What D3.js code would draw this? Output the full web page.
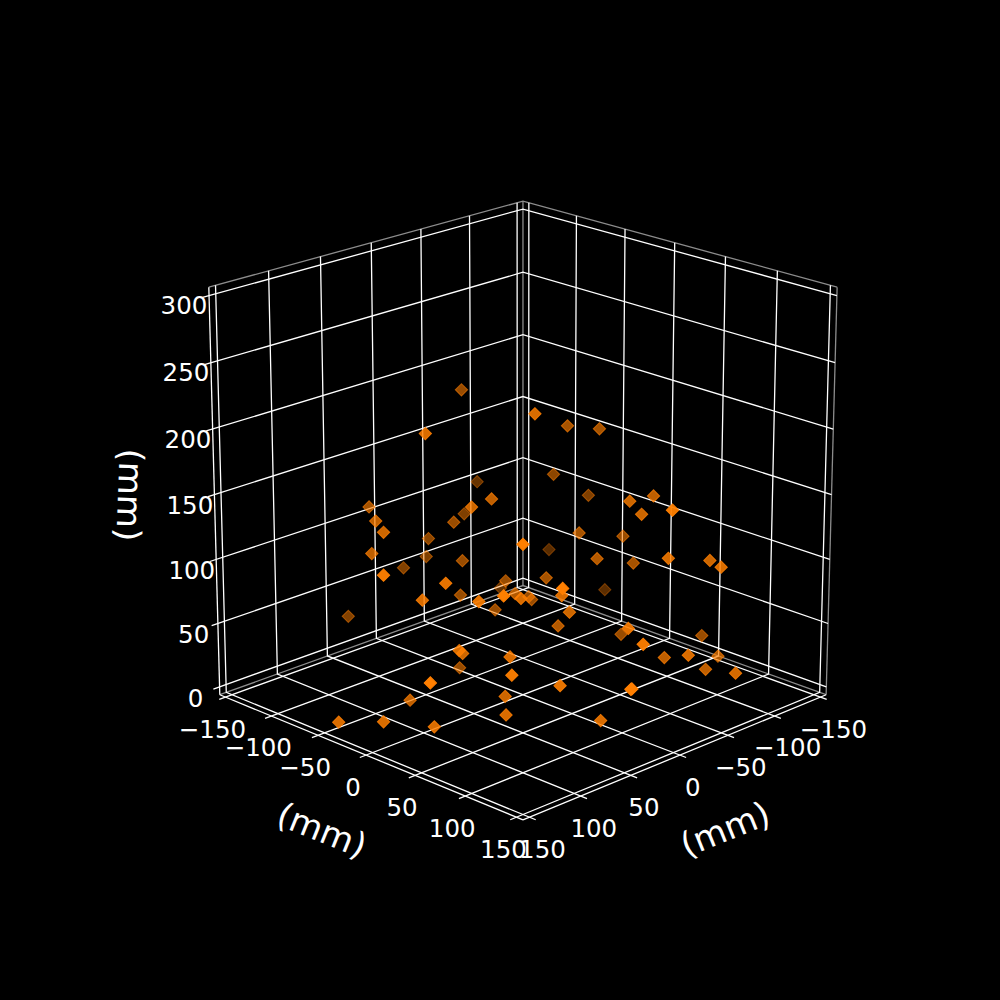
<!DOCTYPE html>
<html>
<head>
<meta charset="utf-8">
<script src="https://cdn.jsdelivr.net/npm/d3@7"></script>
<style>
  html, body { margin: 0; background: #000; }
  text { font-family: "DejaVu Sans"; fill: #fff; }
</style>
</head>
<body>
<svg id="chart" width="1000" height="1000"></svg>
<script>
// values, in mm
const xVals = [-41,56,-89,5,31,-48,-13,42,68,80,-11,76,-20,-11,-6,68,128,85,-4,86,34,72,-19,-30,-82,86,-4,36,-39,-40,-37,56,15,-150,0,-20,2,-80,11,-122,-55,-38,-97,-74,-64,46,40,39,17,76,61,7,52,82,47,64,137,82,149,126,102,-3,-75,-91,-88,-117,-50,-78,-54,-26,-62,-99,-129,-52,-85,-45,-80,-70]
const yVals = [-105,-42,-138,-27,-21,-110,-85,-117,-82,-61,-110,-78,-122,-74,-132,68,-10,8,-69,-15,-150,28,-48,-48,-106,67,-12,34,-33,-31,-13,95,54,-62,47,16,107,22,130,64,89,128,103,112,150,83,146,146,95,12,0,-59,39,71,29,47,46,-33,-36,-14,13,9,-29,-12,-56,-48,58,55,66,122,-4,5,-101,24,29,101,109,129]
const zVals = [195,200,102,141,143,94,103,121,126,126,84,104,64,76,56,148,120,107,52,88,23,95,42,62,26,114,69,89,51,49,72,119,91,18,72,47,77,25,74,24,33,51,26,25,36,39,53,53,7,54,44,0,50,54,15,11,57,4,6,6,3,213,177,175,129,107,147,143,138,163,103,93,46,93,82,116,107,110]

const xyTicks = [-150,-100,-50,0,50,100,150]
const zTicks = [0,50,100,150,200,250,300]
const axisLabel = '(mm)'

const svg = d3.select('#chart')

// camera: elevation 20, azimuth 45, distance 10
const elev = 20 * Math.PI / 180
const dist = 10
const cosE = Math.cos(elev)
const sinE = Math.sin(elev)

// data -> unit cube centred on 0
const xCube = d3.scaleLinear().domain([-150, 150]).range([-0.5, 0.5])
const yCube = d3.scaleLinear().domain([-150, 150]).range([-0.5, 0.5])
const zCube = d3.scaleLinear().domain([0, 300]).range([-0.5, 0.5])

// view plane -> pixels
const sx = d3.scaleLinear().domain([-0.095, 0.09]).range([125, 900])
const sy = d3.scaleLinear().domain([-0.095, 0.09]).range([890, 120])

function depth(x, y, z) {
  const f = (xCube(x) + yCube(y)) / Math.SQRT2
  return f * cosE + zCube(z) * sinE
}

function project(x, y, z) {
  const r = (yCube(y) - xCube(x)) / Math.SQRT2
  const f = (xCube(x) + yCube(y)) / Math.SQRT2
  const u = zCube(z) * cosE - f * sinE
  const w = dist - depth(x, y, z)
  return [sx(r / w), sy(u / w)]
}

const L = 156.25 // pane edge
const zLo = -6.25
const zHi = 306.25
const tickOut = 6
const lw = 1.3

const line3d = d3.line().x(d => project(...d)[0]).y(d => project(...d)[1])

function seg(g, pts, color, width) {
  g.append('path')
    .attr('d', line3d(pts))
    .attr('fill', 'none')
    .attr('stroke', color)
    .attr('stroke-width', width)
}

// pane edges
const paneG = svg.append('g')
const paneCol = '#8c8c8c'
seg(paneG, [[L,-L,zHi],[-L,-L,zHi],[-L,L,zHi]], paneCol, lw)
seg(paneG, [[-L,-L,zHi],[-L,-L,zLo]], paneCol, lw)
seg(paneG, [[L,-L,zLo],[-L,-L,zLo],[-L,L,zLo]], paneCol, lw)
seg(paneG, [[-L,L,zHi],[-L,L,zLo]], paneCol, lw)

// grid
const gridG = svg.append('g')
xyTicks.forEach(t => {
  seg(gridG, [[t,L+tickOut,zLo],[t,-L,zLo],[t,-L,zHi]], '#fff', lw)
  seg(gridG, [[L+tickOut,t,zLo],[-L,t,zLo],[-L,t,zHi]], '#fff', lw)
})
zTicks.forEach(t => {
  seg(gridG, [[L+tickOut,-L,t],[-L,-L,t],[-L,L,t]], '#fff', lw)
})

// axis lines
const axisG = svg.append('g')
seg(axisG, [[L,-L,zLo],[L,L,zLo]], '#fff', lw)
seg(axisG, [[L,L,zLo],[-L,L,zLo]], '#fff', lw)
seg(axisG, [[L,-L,zLo],[L,-L,zHi]], '#fff', lw)

// tick labels
const tickG = svg.append('g')
  .attr('font-size', 24.5)
  .attr('text-anchor', 'middle')
  .attr('dominant-baseline', 'central')
const fmt = v => (v < 0 ? '\u2212' + (-v) : '' + v)

xyTicks.forEach(t => {
  const a = project(L, t, zLo)
  tickG.append('text').attr('x', a[0] - 13).attr('y', a[1] + 32).text(fmt(t))
  const b = project(t, L, zLo)
  tickG.append('text').attr('x', b[0] + 13).attr('y', b[1] + 32).text(fmt(t))
})
zTicks.forEach(t => {
  const c = project(L + 25, -L, t)
  tickG.append('text').attr('x', c[0] + 2).attr('y', c[1] + 2).text(fmt(t))
})

// axis labels
const labelG = svg.append('g')
  .attr('font-size', 34)
  .attr('text-anchor', 'middle')
  .attr('dominant-baseline', 'central')
labelG.append('text').attr('transform', 'translate(322,830) rotate(22)').text(axisLabel)
labelG.append('text').attr('transform', 'translate(725,829) rotate(-22)').text(axisLabel)
labelG.append('text').attr('transform', 'translate(130,495) rotate(92)').text(axisLabel)

// scatter, far to near, fading with depth
const points = d3.range(xVals.length).map(i => {
  const p = project(xVals[i], yVals[i], zVals[i])
  return { sx: p[0], sy: p[1], d: depth(xVals[i], yVals[i], zVals[i]) }
}).sort((a, b) => a.d - b.d)

const alpha = d3.scaleLinear().domain(d3.extent(points, d => d.d)).range([0.35, 1])
const marker = d3.symbol(d3.symbolSquare, 76)

svg.append('g').selectAll('path')
  .data(points)
  .join('path')
  .attr('d', marker)
  .attr('transform', d => `translate(${d.sx},${d.sy}) rotate(45)`)
  .attr('fill', '#ff7f00')
  .attr('fill-opacity', d => alpha(d.d))
  .attr('stroke', '#ff7f00')
  .attr('stroke-width', 1)
  .attr('stroke-opacity', d => alpha(d.d))
</script>
</body>
</html>
